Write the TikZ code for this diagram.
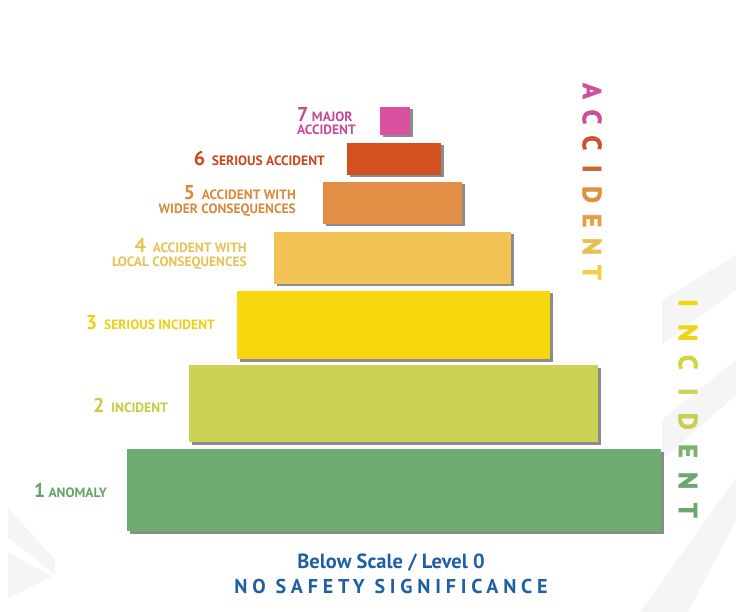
\documentclass[tikz,border=0pt]{standalone}
\usepackage{fontspec}
\setmainfont{PT Sans}
\newfontfamily\spacedfont[LetterSpace=24]{PT Sans}
\newfontfamily\heavyfont[FakeBold=2.5]{PT Sans}
\usetikzlibrary{shadows}
\tikzset{>=latex}

% box fills
\definecolor{box1}{HTML}{6EAD72}
\definecolor{box2}{HTML}{CDD257}
\definecolor{box3}{HTML}{F7D80E}
\definecolor{box4}{HTML}{F2C354}
\definecolor{box5}{HTML}{E28F45}
\definecolor{box6}{HTML}{D4501E}
\definecolor{box7}{HTML}{D9519F}
% label colours
\definecolor{lab1}{HTML}{64A468}
\definecolor{lab2}{HTML}{C6CB45}
\definecolor{lab3}{HTML}{F0CE10}
\definecolor{lab4}{HTML}{E9C256}
\definecolor{lab5}{HTML}{D98A3C}
\definecolor{lab6}{HTML}{C9471C}
\definecolor{lab7}{HTML}{C54A98}
\definecolor{scaleblue}{HTML}{1F5FA5}

\newcommand\lvnum[1]{{\fontsize{20}{20}\selectfont #1}}

\begin{document}
\begin{tikzpicture}[x=1pt, y=-1pt,
    level/.style={draw=none, inner sep=0pt,
      drop shadow={shadow xshift=2.5pt, shadow yshift=-2.5pt, fill=black!75, opacity=0.6}},
    lbl/.style={font=\bfseries\fontsize{13.5}{13.5}\selectfont, inner sep=0pt, align=right, anchor=east},
    vletter/.style={font=\heavyfont\bfseries\fontsize{26}{26}\selectfont, inner sep=0pt, rotate=-90},
    swoosh/.style={fill=black!4, draw=none}]
    \useasboundingbox (0,0) rectangle (736,612);
    \fill[white] (0,0) rectangle (736,612);

    % faint background swooshes
    \fill[swoosh] (8,508) -- (55,560) -- (55,574) -- (8,538) -- cycle;
    \fill[swoosh] (8,552) -- (52,576) -- (8,598) -- cycle;
    \fill[swoosh] (640,612) -- (736,478) -- (736,520) -- (688,612) -- cycle;
    \fill[swoosh] (662,300) -- (736,255) -- (736,290) -- (662,345) -- cycle;
    \fill[swoosh] (662,420) -- (736,360) -- (736,395) -- (662,460) -- cycle;

    % the seven levels
    \foreach \n/\cx/\cy/\w/\h in {1/394/490/534/82, 2/393.5/403.5/409/77,
        3/393.5/325/313/68, 4/392.5/258/237/52, 5/392.5/203/139/42,
        6/394/159/94/32, 7/395/121/30/28}
      \node[level, fill=box\n, minimum width=\w pt, minimum height=\h pt] (box\n) at (\cx,\cy) {};

    % level labels
    \node[lbl, text=lab1] (lab1) at (107,490) {\lvnum{1} ANOMALY};
    \node[lbl, text=lab2] (lab2) at (168,405) {\lvnum{2}\ \ INCIDENT};
    \node[lbl, text=lab3] (lab3) at (215,323) {\lvnum{3}\ \ SERIOUS INCIDENT};
    \node[lbl, text=lab4] (lab4) at (247,254) {\lvnum{4}\ \ ACCIDENT WITH\\LOCAL CONSEQUENCES};
    \node[lbl, text=lab5] (lab5) at (296,201) {\lvnum{5}\ \ ACCIDENT WITH\\WIDER CONSEQUENCES};
    \node[lbl, text=lab6] (lab6) at (325,159) {\lvnum{6}\ \ SERIOUS ACCIDENT};
    \node[lbl, text=lab7, align=left, anchor=west] (lab7) at (297,121) {\lvnum{7} MAJOR\\ACCIDENT};

    % vertical words
    \foreach \ch/\col [count=\i] in {A/D0509E, C/CF4F95, C/D0522A, I/D2652A,
        D/E0913F, E/E5A045, N/E8C050, T/EED040}
      \node[vletter] (acc\i) at (592,{91+(\i-1)*25.9})
        {\definecolor{tmp}{HTML}{\col}\textcolor{tmp}{\ch}};
    \foreach \ch/\col [count=\i] in {I/F2D70E, N/F0D418, C/D4D340, I/CED050,
        D/C9CD50, E/7FB070, N/6AA870, T/6AA870}
      \node[vletter] (inc\i) at (688,{303+(\i-1)*29.6})
        {\definecolor{tmp}{HTML}{\col}\textcolor{tmp}{\ch}};

    % below scale
    \node[font=\bfseries\fontsize{20.5}{20.5}\selectfont, text=scaleblue, inner sep=0pt] (below) at (391,563) {Below Scale / Level 0};
    \node[font=\spacedfont\bfseries\fontsize{20}{20}\selectfont, text=scaleblue, inner sep=0pt] (nosafety) at (391,586) {NO SAFETY SIGNIFICANCE};
\end{tikzpicture}
\end{document}
